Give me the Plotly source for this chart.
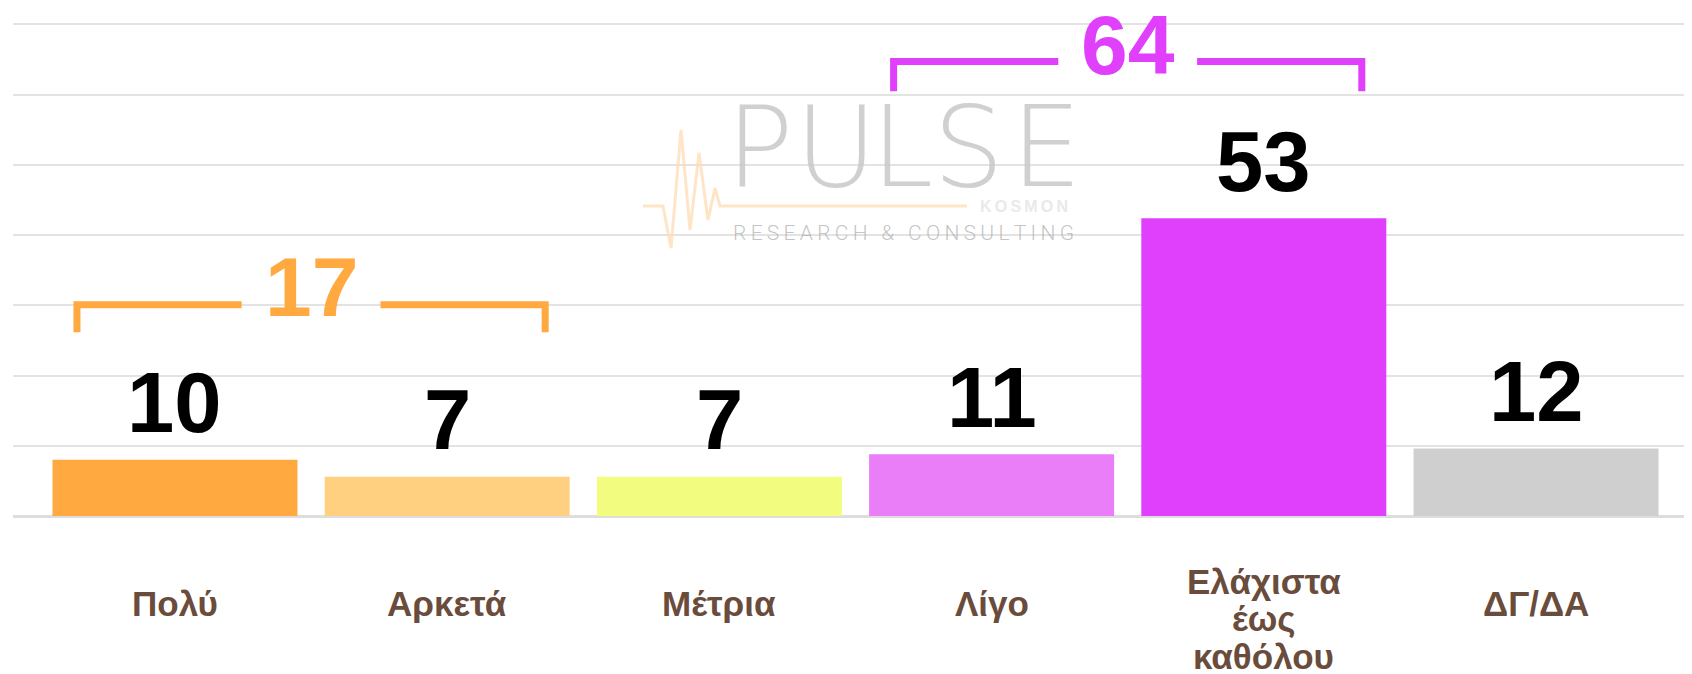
import plotly.graph_objects as go

# ---- data ----
categories = ["Πολύ", "Αρκετά", "Μέτρια", "Λίγο", "Ελάχιστα\nέως\nκαθόλου", "ΔΓ/ΔΑ"]
values = [10, 7, 7, 11, 53, 12]
bar_colors = ["#FFA940", "#FFD080", "#F2FC7F", "#E97EF8", "#E040FB", "#CFCFCF"]
# groups: (first index, last index, colour)
groups = [(0, 1, "#FFA940"), (3, 4, "#E040FB")]
# bracket vertical placement (y units): line, legs bottom, label centre
bracket_y = [(37.6, 32.7, 40.8), (80.9, 75.6, 83.8)]

W, H = 1692, 674
OFF = 8  # page body margin
ML, MR, MT, MB = 5, 8, 0, 166
PW, PH = W - ML - MR, H - MT - MB

def px2paper(px, py):
    # window pixel -> paper coords
    return (px - OFF - ML) / PW, 1 - (py - OFF - MT) / PH

fig = go.Figure()
fig.add_trace(go.Bar(
    x=list(range(len(categories))), y=values,
    marker=dict(color=bar_colors, line=dict(width=0)),
    hoverinfo="skip", showlegend=False,
))

annotations = []
shapes = []
LBL_FONT = dict(family="Arial, Liberation Sans", size=35, color="#6A4C3C", weight="bold")

# value labels
for i, v in enumerate(values):
    annotations.append(dict(
        x=i, y=v, xref="x", yref="y", text=str(v), showarrow=False,
        yanchor="middle", yshift=57,
        font=dict(family="Arial, Liberation Sans", size=85, color="#000000", weight="bold"),
    ))

# category labels (one annotation per line, tight line spacing)
for i, c in enumerate(categories):
    lines = c.split("\n")
    if len(lines) == 1:
        shifts = [-87]
    else:
        shifts = [-65 - 37.5 * k for k in range(len(lines))]
    for line, s in zip(lines, shifts):
        annotations.append(dict(
            x=i, y=0, xref="x", yref="paper", text=line, showarrow=False,
            yanchor="middle", yshift=s, font=LBL_FONT,
        ))

# brackets with group totals
for (a, b, col), (yl, yb, yt) in zip(groups, bracket_y):
    total = sum(values[a:b + 1])
    xc = (a + b) / 2
    xl, xr = a - 0.36, b + 0.36
    gl, gr = xc - 0.255, xc + 0.255
    shapes.append(dict(type="path", xref="x", yref="y",
                       path=f"M {xl} {yb} L {xl} {yl} L {gl} {yl}",
                       line=dict(color=col, width=7)))
    shapes.append(dict(type="path", xref="x", yref="y",
                       path=f"M {gr} {yl} L {xr} {yl} L {xr} {yb}",
                       line=dict(color=col, width=7)))
    annotations.append(dict(
        x=xc, y=yt, xref="x", yref="y", text=str(total), showarrow=False,
        yanchor="middle",
        font=dict(family="Arial, Liberation Sans", size=84, color=col, weight="bold"),
    ))

# watermark (decoration)
for letter, cx in zip("PULSE", [760, 836, 902, 968, 1046]):
    xp, yp = px2paper(cx, 147)
    annotations.append(dict(
        x=xp, y=yp, xref="paper", yref="paper", text=letter, showarrow=False,
        xanchor="center", yanchor="middle",
        font=dict(family="DejaVu Sans", size=112, color="rgba(200,200,200,0.85)", weight=200),
    ))
xp, yp = px2paper(903, 233)
annotations.append(dict(
    x=xp, y=yp, xref="paper", yref="paper", text="\u2009".join("RESEARCH & CONSULTING"),
    showarrow=False, xanchor="center", yanchor="middle",
    font=dict(family="Roboto, DejaVu Sans", size=21, color="rgba(170,170,170,0.7)", weight=300),
))
xp, yp = px2paper(1024, 207)
annotations.append(dict(
    x=xp, y=yp, xref="paper", yref="paper", text="\u2009".join("KOSMON"),
    showarrow=False, xanchor="center", yanchor="middle",
    font=dict(family="Arial, Liberation Sans", size=16, color="rgba(228,228,228,0.8)", weight="bold"),
))
beat = [(643, 206), (663, 206), (671, 248), (681, 130), (690, 230), (699, 153),
        (708, 220), (715, 188), (720, 206), (967, 206)]
pts = [px2paper(x, y) for x, y in beat]
path = "M " + " L ".join(f"{x:.5f} {y:.5f}" for x, y in pts)
shapes.append(dict(type="path", xref="paper", yref="paper", path=path,
                   line=dict(color="rgba(253,220,180,0.75)", width=3), layer="above"))

fig.update_layout(
    width=W, height=H,
    margin=dict(l=ML, r=MR, t=MT, b=MB, pad=0),
    paper_bgcolor="white", plot_bgcolor="white",
    bargap=0.1,
    showlegend=False,
    annotations=annotations,
    shapes=shapes,
    xaxis=dict(range=[-0.595, 5.573], showticklabels=False, showgrid=False,
               zeroline=False, showline=False, ticks="", fixedrange=True),
    yaxis=dict(range=[0, 90.4], tick0=0, dtick=12.5, showticklabels=False,
               showgrid=True, gridcolor="#E3E3E3", gridwidth=2,
               zeroline=True, zerolinecolor="#DDDDDD", zerolinewidth=3,
               showline=False, ticks="", fixedrange=True),
)

fig.write_html("out.html")
